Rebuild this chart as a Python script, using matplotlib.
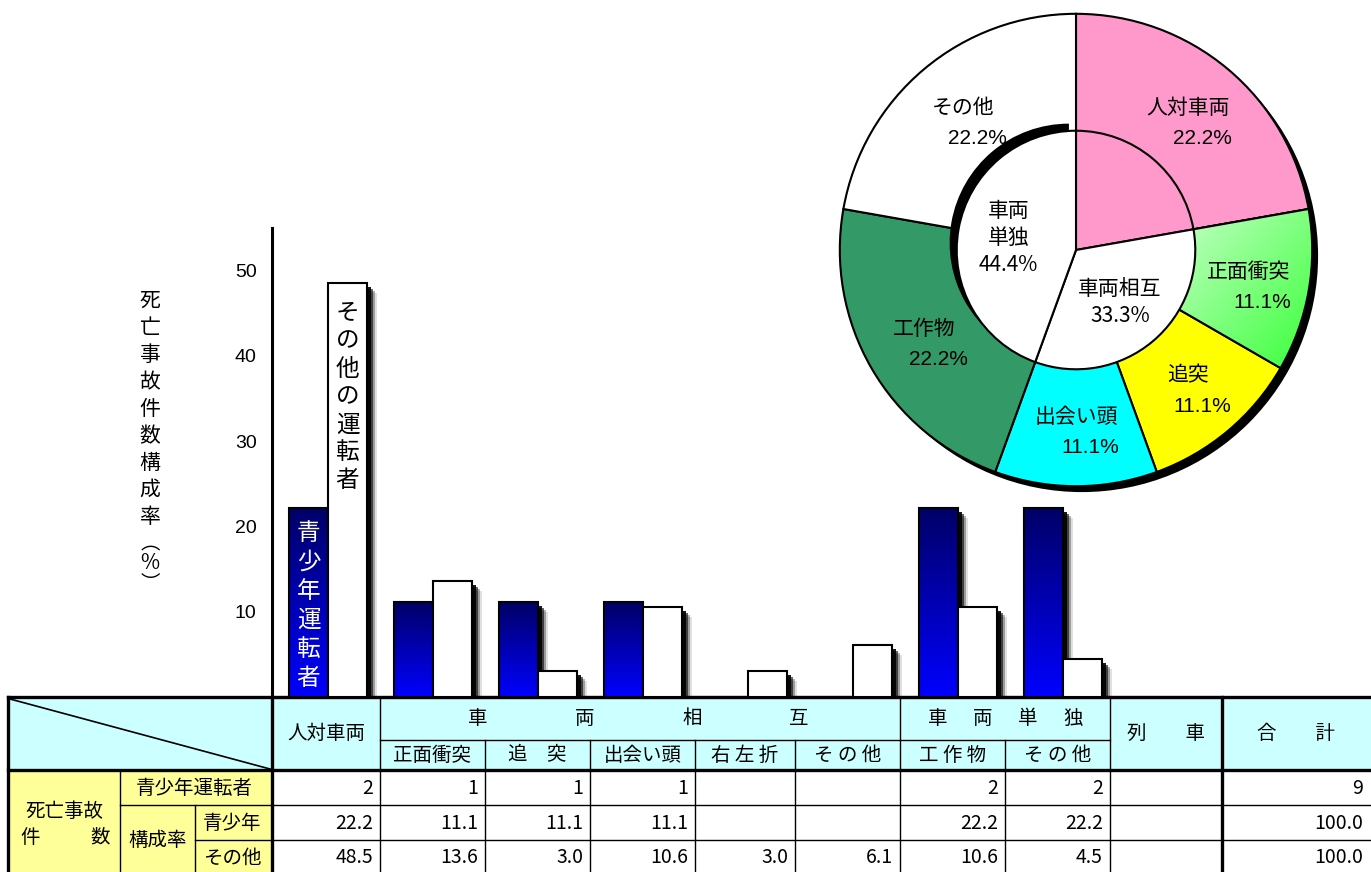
import matplotlib
matplotlib.use('Agg')
import matplotlib.pyplot as plt
import numpy as np
from matplotlib.patches import Rectangle, Circle, Wedge
from matplotlib.colors import LinearSegmentedColormap

plt.rcParams['font.family'] = ['Noto Sans CJK JP', 'DejaVu Sans']

# ---- data ----
cats = ['人対車両', '正面衝突', '追突', '出会い頭', '右左折', 'その他', '工作物', 'その他', '列車']
youth_cnt = [2, 1, 1, 1, None, None, 2, 2, None]
youth_pct = [22.2, 11.1, 11.1, 11.1, None, None, 22.2, 22.2, None]
other_pct = [48.5, 13.6, 3.0, 10.6, 3.0, 6.1, 10.6, 4.5, None]
youth_total = 9
youth_pct_total = 100.0
other_pct_total = 100.0
yticks = [10, 20, 30, 40, 50]

ring_labels = ['人対車両', '正面衝突', '追突', '出会い頭', '工作物', 'その他']
ring_vals = [2, 1, 1, 1, 2, 2]
ring_pct = ['22.2%', '11.1%', '11.1%', '11.1%', '22.2%', '22.2%']
ring_colors = ['#FF99CC', '#99FF99', '#FFFF00', '#00FFFF', '#339966', '#FFFFFF']
inner_labels = ['', '車両相互', '車両\n単独']
inner_vals = [2, 3, 4]
inner_pct = ['', '33.3%', '44.4%']
inner_colors = ['#FF99CC', '#FFFFFF', '#FFFFFF']

W, H = 1371, 872
fig = plt.figure(figsize=(W / 100, H / 100), dpi=100)

# ---- table (pixel coordinates) ----
axt = fig.add_axes([0, 0, 1, 1])
axt.set_xlim(0, W)
axt.set_ylim(H, 0)
axt.axis('off')

cyan = '#CCFFFF'
yellow = '#FFFF99'
col_x = [272, 380, 485, 590, 695, 795, 900, 1005, 1110, 1222, 1371]
row_y = [770, 805, 840, 872]

axt.add_patch(Rectangle((8, 697), W - 8, 73, fc=cyan, ec='none'))
axt.add_patch(Rectangle((8, 770), 264, 102, fc=yellow, ec='none'))

thin = 1.0
thick = 2.4
# horizontal lines
axt.plot([8, W], [697, 697], color='black', lw=thick)
axt.plot([8, W], [770, 770], color='black', lw=thick)
axt.plot([380, 1110], [740, 740], color='black', lw=thin)
axt.plot([120, W], [805, 805], color='black', lw=thin)
axt.plot([195, W], [840, 840], color='black', lw=thin)
# vertical lines
for x in [8, 272, 1222]:
    axt.plot([x, x], [697, 872], color='black', lw=thick)
axt.plot([120, 120], [770, 872], color='black', lw=thin)
axt.plot([195, 195], [805, 872], color='black', lw=thin)
for x in [380, 900, 1110]:
    axt.plot([x, x], [697, 872], color='black', lw=thin)
for x in [485, 590, 695, 795, 1005]:
    axt.plot([x, x], [740, 872], color='black', lw=thin)
axt.plot([10, 270], [699, 769], color='black', lw=1.2)

fs_t = 14
# header texts
axt.text(326, 733, '人対車両', ha='center', va='center', fontsize=fs_t)
for i, ch in enumerate('車両相互'):
    axt.text(478 + 107 * i, 718, ch, ha='center', va='center', fontsize=fs_t)
for i, ch in enumerate('車両単独'):
    axt.text(938 + 45 * i, 718, ch, ha='center', va='center', fontsize=fs_t)
sub_heads = ['正面衝突', '追　突', '出会い頭', '右 左 折', 'そ の 他', '工 作 物', 'そ の 他']
for j, s in enumerate(sub_heads):
    xc = (col_x[j + 1] + col_x[j + 2]) / 2
    axt.text(xc, 755, s, ha='center', va='center', fontsize=fs_t)
axt.text(1166, 733, '列　　車', ha='center', va='center', fontsize=fs_t)
axt.text(1296, 733, '合　　計', ha='center', va='center', fontsize=fs_t)

# row header texts
axt.text(64, 811, '死亡事故', ha='center', va='center', fontsize=fs_t)
axt.text(30, 837, '件', ha='center', va='center', fontsize=fs_t)
axt.text(100, 837, '数', ha='center', va='center', fontsize=fs_t)
axt.text(194, 788, '青少年運転者', ha='center', va='center', fontsize=fs_t)
axt.text(158, 840, '構成率', ha='center', va='center', fontsize=fs_t)
axt.text(232, 823, '青少年', ha='center', va='center', fontsize=fs_t)
axt.text(232, 858, 'その他', ha='center', va='center', fontsize=fs_t)

# data cells
rows = [
    [youth_cnt, youth_total, '{:d}'],
    [youth_pct, youth_pct_total, '{:.1f}'],
    [other_pct, other_pct_total, '{:.1f}'],
]
for r, (vals, tot, fmt) in enumerate(rows):
    yc = (row_y[r] + row_y[r + 1]) / 2 + 1
    for j, v in enumerate(vals):
        if v is not None:
            axt.text(col_x[j + 1] - 7, yc, fmt.format(v), ha='right', va='center', fontsize=fs_t)
    axt.text(W - 8, yc, fmt.format(tot), ha='right', va='center', fontsize=fs_t)

# y label (vertical)
ylab = '死亡事故件数構成率'
for i, ch in enumerate(ylab):
    axt.text(150, 301 + 27 * i, ch, ha='center', va='center', fontsize=15)
axt.text(150, 544, '︵', ha='center', va='center', fontsize=14)
axt.text(150, 563, '%', ha='center', va='center', fontsize=15)
axt.text(150, 583, '︶', ha='center', va='center', fontsize=14)

# ---- bar chart ----
ax = fig.add_axes([272 / W, (H - 697) / H, 945 / W, 469 / H])
ax.set_xlim(-0.5, 8.5)
ax.set_ylim(0, 55)
ax.patch.set_alpha(0)
px_x = 9 / 945
px_y = 55 / 469
bw = 0.371

blue_cmap = LinearSegmentedColormap.from_list('bl', ['#0000FF', '#000066'])
grad = np.linspace(0, 1, 256).reshape(-1, 1)


def shadow(x0, h):
    for off, a in [(10, 0.12), (8, 0.3), (6, 0.6), (4, 0.9)]:
        ax.add_patch(Rectangle((x0 + off * px_x, 0), bw, h - off * px_y,
                               fc='black', ec='none', alpha=a, zorder=2))


for i in range(len(cats)):
    yv = youth_pct[i]
    ov = other_pct[i]
    if yv:
        x0 = i - 0.152 - bw / 2
        shadow(x0, yv)
        ax.imshow(grad, extent=[x0, x0 + bw, 0, yv], origin='lower',
                  cmap=blue_cmap, aspect='auto', zorder=3)
        ax.add_patch(Rectangle((x0, 0), bw, yv, fill=False, ec='black', lw=1.5, zorder=4))
    if ov:
        x0 = i + 0.219 - bw / 2
        shadow(x0, ov)
        ax.add_patch(Rectangle((x0, 0), bw, ov, fc='white', ec='black', lw=1.5, zorder=4))

ax.set_xlim(-0.5, 8.5)
ax.set_ylim(0, 55)
for s in ['top', 'right']:
    ax.spines[s].set_visible(False)
ax.spines['left'].set_linewidth(2.2)
ax.spines['bottom'].set_linewidth(2.2)
ax.set_xticks([])
ax.set_yticks(yticks)
ax.set_yticklabels([str(t) for t in yticks], family=['Liberation Sans', 'DejaVu Sans'])
ax.tick_params(axis='y', length=0, pad=11, labelsize=14)

# labels inside the first bars
for k, ch in enumerate('青少年運転者'):
    ax.text(-0.152, 19.2 - 3.4 * k, ch, ha='center', va='center', fontsize=17,
            color='white', zorder=6)
for k, ch in enumerate('その他の運転者'):
    ax.text(0.219, 45.0 - 3.27 * k, ch, ha='center', va='center', fontsize=17,
            color='black', zorder=6)

# ---- donut ----
axd = fig.add_axes([828 / W, (H - 498) / H, 496 / W, 496 / H])
axd.add_patch(Circle((0.025, -0.025), 1.0, fc='black', ec='none'))
wedges, _ = axd.pie(ring_vals, radius=1.0, startangle=90, counterclock=False,
                    colors=ring_colors,
                    wedgeprops=dict(edgecolor='black', linewidth=1.5))

# gradient on 正面衝突
gx, gy = np.meshgrid(np.linspace(0, 1, 100), np.linspace(0, 1, 100))
t = (gx + (1 - gy)) / 2
green_cmap = LinearSegmentedColormap.from_list('gr', ['#CCFFCC', '#33FF33'])
w1 = wedges[1]
im = axd.imshow(t, extent=[0.38, 1.02, -0.55, 0.2], origin='lower', cmap=green_cmap,
                aspect='auto', zorder=1)
im.set_clip_path(w1)
axd.add_patch(Wedge(w1.center, w1.r, w1.theta1, w1.theta2, fill=False,
                    ec='black', lw=1.5, zorder=1))

r_in = 0.505
inner_w, _ = axd.pie(inner_vals, radius=r_in, startangle=90, counterclock=False,
                     colors=inner_colors, wedgeprops=dict(edgecolor='none'))
# shadow of the 車両単独 wedge
ws = inner_w[2]
axd.add_patch(Wedge((-0.03, 0.03), r_in, ws.theta1, ws.theta2, fc='black', ec='none', zorder=1))
inner_w2, _ = axd.pie(inner_vals, radius=r_in, startangle=90, counterclock=False,
                      colors=inner_colors,
                      wedgeprops=dict(edgecolor='black', linewidth=1.5))
for w in inner_w:
    w.set_visible(False)

for w, lab, pct in zip(wedges, ring_labels, ring_pct):
    ang = np.deg2rad((w.theta1 + w.theta2) / 2)
    xx, yy = 0.74 * np.cos(ang), 0.74 * np.sin(ang) - 0.03
    axd.text(xx, yy + 0.065, lab, ha='center', va='center', fontsize=15, zorder=6)
    axd.text(xx + 0.06, yy - 0.065, pct, ha='center', va='center', fontsize=15,
             family=['Liberation Sans', 'DejaVu Sans'], zorder=6)
for w, lab, pct in zip(inner_w2, inner_labels, inner_pct):
    if not lab:
        continue
    ang = np.deg2rad((w.theta1 + w.theta2) / 2)
    axd.text(0.29 * np.cos(ang), 0.29 * np.sin(ang), lab + '\n' + pct,
             ha='center', va='center', fontsize=15, linespacing=1.3, zorder=6)

axd.set_xlim(-1.05, 1.05)
axd.set_ylim(-1.05, 1.05)
axd.set_aspect('equal')
axd.axis('off')

fig.savefig('out.png', dpi=100)
